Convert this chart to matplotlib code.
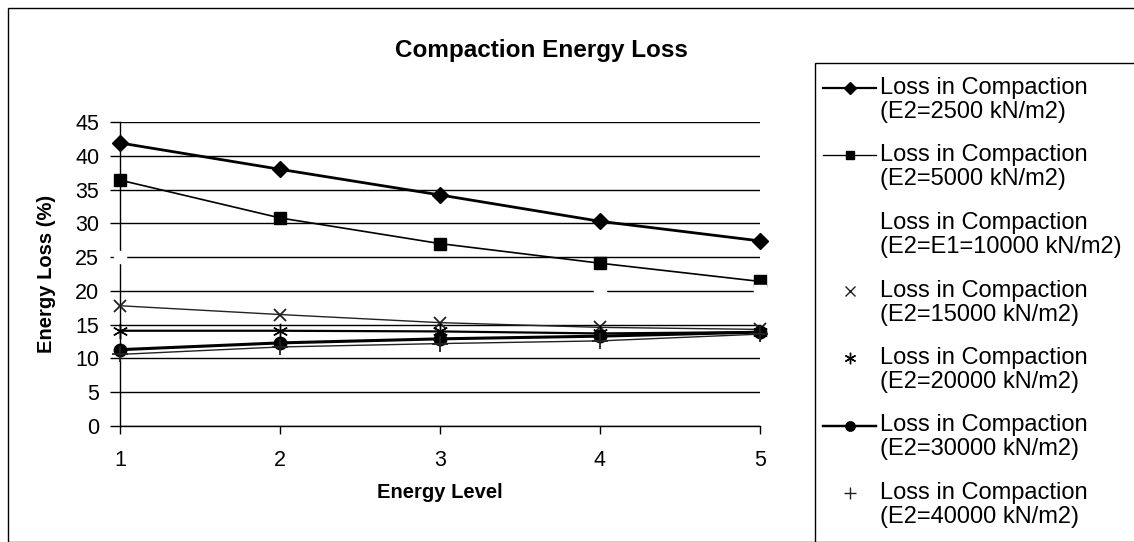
import numpy as np
import matplotlib
matplotlib.use("Agg")
import matplotlib.pyplot as plt
from matplotlib.lines import Line2D
from matplotlib.patches import Rectangle

plt.rcParams['font.family'] = ['Liberation Sans', 'DejaVu Sans']

###################################################################
#   Data
###################################################################
energy_level = [1, 2, 3, 4, 5]

loss_2500 = [41.9, 38.0, 34.2, 30.3, 27.4]
loss_5000 = [36.4, 30.8, 27.0, 24.1, 21.4]
loss_10000 = [25.0, 22.6, 21.4, 20.0, 20.0]
loss_15000 = [17.8, 16.5, 15.3, 14.6, 14.3]
loss_20000 = [14.1, 14.1, 14.0, 13.7, 13.9]
loss_30000 = [11.3, 12.3, 12.9, 13.3, 13.9]
loss_40000 = [10.6, 11.7, 12.2, 12.6, 13.6]

labels = ["Loss in Compaction\n(E2=2500 kN/m2)",
          "Loss in Compaction\n(E2=5000 kN/m2)",
          "Loss in Compaction\n(E2=E1=10000 kN/m2)",
          "Loss in Compaction\n(E2=15000 kN/m2)",
          "Loss in Compaction\n(E2=20000 kN/m2)",
          "Loss in Compaction\n(E2=30000 kN/m2)",
          "Loss in Compaction\n(E2=40000 kN/m2)"]

series = [loss_2500, loss_5000, loss_10000, loss_15000,
          loss_20000, loss_30000, loss_40000]

# (color, linestyle, linewidth, marker, markersize, show line in legend)
star = (6, 2, 0)
styles = [
    ('black', '-', 2.0, 'D', 8, True),
    ('black', '-', 1.2, 's', 8, True),
    ('white', 'none', 1.0, 's', 8, False),
    ('#222222', '-', 1.0, 'x', 9, False),
    ('black', '-', 1.6, star, 11, False),
    ('black', '-', 2.2, 'o', 9, True),
    ('#222222', '-', 1.0, '+', 12, False),
]

###################################################################
#   Figure
###################################################################
W, H = 1134, 542
fig = plt.figure(figsize=(W / 100, H / 100), dpi=100)

# outer chart border
fig.add_artist(Rectangle((8 / W, 0), 1.2, 1 - 8 / H, transform=fig.transFigure,
                         fill=False, edgecolor='black', linewidth=1.0))

ax = fig.add_axes([120 / W, 1 - 426 / H, 640 / W, 304 / H])

for y, st in zip(series, styles):
    color, ls, lw, mk, ms, _ = st
    ax.plot(energy_level, y, color=color, linestyle=ls, linewidth=lw,
            marker=mk, markersize=ms, markerfacecolor=color,
            markeredgecolor=color, markeredgewidth=1.3 if mk in ('x', '+') else 1.0,
            clip_on=False, zorder=3)

ax.set_xlim(1, 5)
ax.set_ylim(0, 45)
ax.set_xticks(energy_level)
ax.set_yticks(np.arange(0, 50, 5))
ax.yaxis.grid(True, color='black', linewidth=1.0)
ax.set_axisbelow(True)
for s in ['top', 'right']:
    ax.spines[s].set_visible(False)
ax.spines['left'].set_linewidth(1.0)
ax.spines['bottom'].set_linewidth(1.0)
ax.tick_params(axis='y', direction='out', length=7, width=1.0, pad=8, labelsize=15.5)
ax.tick_params(axis='x', direction='out', length=6, width=1.0, pad=11, labelsize=15.5)

ax.set_xlabel("Energy Level", fontsize=14.5, fontweight='bold', labelpad=9)
ax.set_ylabel("Energy Loss (%)", fontsize=14.5, fontweight='bold', labelpad=14)
fig.text(541 / W, 1 - 50 / H, "Compaction Energy Loss", fontsize=17.5,
         fontweight='bold', ha='center', va='center')

###################################################################
#   Legend (Excel style, handle next to first line)
###################################################################
fig.add_artist(Rectangle((815 / W, -0.1), 0.5, 1.1 - 63 / H, transform=fig.transFigure,
                         fill=False, edgecolor='black', linewidth=1.0))

for i, (lab, st) in enumerate(zip(labels, styles)):
    color, ls, lw, mk, ms, show_line = st
    ypx = 88 + 67.5 * i
    yf = 1 - ypx / H
    if show_line:
        fig.add_artist(Line2D([823 / W, 876 / W], [yf, yf], color=color,
                              linewidth=lw * 0.8, transform=fig.transFigure))
    fig.add_artist(Line2D([850 / W], [yf], marker=mk, markersize=ms * 0.75,
                          color=color, markerfacecolor=color, linestyle='none',
                          markeredgewidth=1.0, transform=fig.transFigure))
    line1, line2 = lab.split("\n")
    fig.text(880 / W, yf, line1, fontsize=17, ha='left', va='center')
    fig.text(880 / W, 1 - (ypx + 24) / H, line2, fontsize=17, ha='left', va='center')

fig.savefig("out.png", dpi=100)
